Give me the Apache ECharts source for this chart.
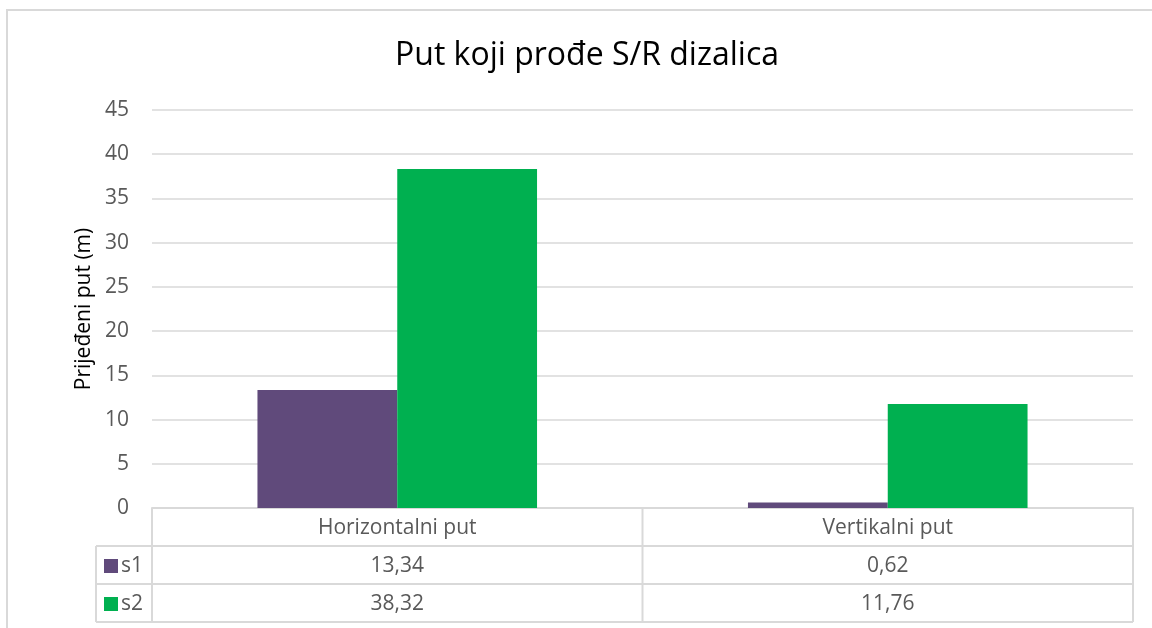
<!DOCTYPE html>
<html><head><meta charset="utf-8">
<script src="https://cdn.jsdelivr.net/npm/echarts@6/dist/echarts.min.js"></script>
<style>html,body{margin:0;padding:0;background:#fff}#c{width:1152px;height:628px}</style>
</head><body><div id="c"></div>
<script>
const titleText = 'Put koji prođe S/R dizalica';
const yAxisName = 'Prijeđeni put (m)';
const categories = ['Horizontalni put', 'Vertikalni put'];
const seriesNames = ['s1', 's2'];
const s1 = [13.34, 0.62];
const s2 = [38.32, 11.76];
const colors = ['#604A7B', '#00B050'];
const FONT = '"Open Sans", sans-serif';
const GRAY = '#595959';
const LINE = '#D9D9D9';

const chart = echarts.init(document.getElementById('c'));
const gridL = 152, gridR = 1133, gridTop = 110, gridBot = 508;
const rowH = 38;

chart.setOption({
  animation: false,
  title: { text: titleText, left: 582, top: 35, textAlign: 'center',
    textStyle: { fontFamily: FONT, fontSize: 32, fontWeight: 'normal', color: '#000' } },
  grid: { left: gridL, right: 1152 - gridR, top: gridTop, bottom: 628 - gridBot },
  xAxis: { type: 'category', data: categories,
    axisLine: { show: true, lineStyle: { color: LINE, width: 2 } },
    axisTick: { show: false }, axisLabel: { show: false } },
  yAxis: { type: 'value', min: 0, max: 45, interval: 5,
    name: yAxisName, nameLocation: 'middle', nameGap: 57,
    nameTextStyle: { fontFamily: FONT, fontSize: 21, color: '#000' },
    axisLine: { show: false }, axisTick: { show: false },
    axisLabel: { fontFamily: FONT, fontSize: 21, color: GRAY, margin: 23 },
    splitLine: { lineStyle: { color: LINE, width: 1.5 } } },
  series: [
    { name: seriesNames[0], type: 'bar', data: s1, barGap: '0%', barCategoryGap: '43%',
      itemStyle: { color: colors[0] } },
    { name: seriesNames[1], type: 'bar', data: s2, barGap: '0%', barCategoryGap: '43%',
      itemStyle: { color: colors[1] } }
  ]
});

// Build data table below the plot
const fmt = v => v.toFixed(2).replace('.', ',');
const els = [];
const lineStyle = { stroke: LINE, lineWidth: 2 };
const legL = 96;
// outer chart border
els.push({ type: 'rect', shape: { x: 7, y: 10, width: 1200, height: 700 }, style: { fill: 'none', stroke: LINE, lineWidth: 2 }, silent: true });
// horizontal lines
els.push({ type: 'line', shape: { x1: legL, y1: gridBot + rowH, x2: gridR, y2: gridBot + rowH }, style: lineStyle });
els.push({ type: 'line', shape: { x1: legL, y1: gridBot + 2 * rowH, x2: gridR, y2: gridBot + 2 * rowH }, style: lineStyle });
els.push({ type: 'line', shape: { x1: legL, y1: gridBot + 3 * rowH, x2: gridR, y2: gridBot + 3 * rowH }, style: lineStyle });
// vertical lines
els.push({ type: 'line', shape: { x1: legL, y1: gridBot + rowH, x2: legL, y2: gridBot + 3 * rowH }, style: lineStyle });
els.push({ type: 'line', shape: { x1: gridL, y1: gridBot, x2: gridL, y2: gridBot + 3 * rowH }, style: lineStyle });
els.push({ type: 'line', shape: { x1: gridR, y1: gridBot, x2: gridR, y2: gridBot + 3 * rowH }, style: lineStyle });
const centers = categories.map(c => chart.convertToPixel({ xAxisIndex: 0 }, c));
const catW = (gridR - gridL) / categories.length;
for (let i = 1; i < categories.length; i++) {
  const x = gridL + i * catW;
  els.push({ type: 'line', shape: { x1: x, y1: gridBot, x2: x, y2: gridBot + 3 * rowH }, style: lineStyle });
}
const txt = (x, y, s, align) => ({ type: 'text', x: x, y: y,
  style: { text: s, fill: GRAY, font: '21px ' + FONT, textAlign: align || 'center', textVerticalAlign: 'middle' } });
categories.forEach((c, i) => els.push(txt(centers[i], gridBot + rowH / 2 + 1, c)));
const rows = [s1, s2];
rows.forEach((arr, r) => {
  const yc = gridBot + rowH * (r + 1.5) + 1;
  els.push({ type: 'rect', shape: { x: 104, y: yc - 7, width: 14, height: 14 }, style: { fill: colors[r] } });
  els.push(txt(121, yc, seriesNames[r], 'left'));
  arr.forEach((v, i) => els.push(txt(centers[i], yc, fmt(v))));
});
chart.setOption({ graphic: els });
</script></body></html>
